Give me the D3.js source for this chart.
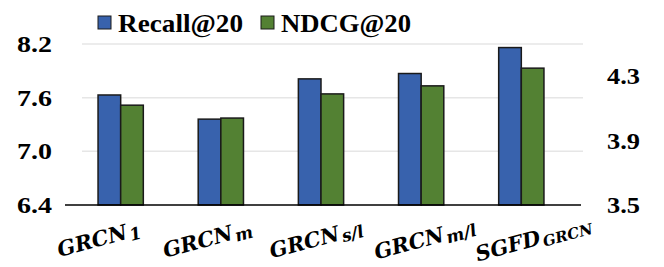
<!DOCTYPE html>
<html>
<head>
<meta charset="utf-8">
<script src="https://cdn.jsdelivr.net/npm/d3@7"></script>
<style>
  body { margin: 0; background: #fff; }
</style>
</head>
<body>
<div id="chart"></div>
<script>
// chart data
const categories = ["GRCN_1", "GRCN_m", "GRCN_s/l", "GRCN_m/l", "SGFD_GRCN"];
const recallValues = [7.63, 7.36, 7.81, 7.87, 8.16];
const ndcgValues = [4.12, 4.04, 4.19, 4.24, 4.35];
const leftTicks = [6.4, 7.0, 7.6, 8.2];
const rightTicks = [3.5, 3.9, 4.3];
const seriesNames = ["Recall@20", "NDCG@20"];

const width = 664, height = 267;
const colours = { "Recall@20": "#3862ad", "NDCG@20": "#538133" };
const serif = "Liberation Serif, Times New Roman, serif";

const svg = d3.select("#chart").append("svg")
  .attr("width", width)
  .attr("height", height);

// scales
const xScale = d3.scaleBand()
  .domain(categories)
  .range([70.6, 571.4])
  .paddingInner(0.548)
  .paddingOuter(0.274);

const xSub = d3.scaleBand()
  .domain(seriesNames)
  .range([0, xScale.bandwidth()]);

const yLeft = d3.scaleLinear().domain([6.4, 8.2]).range([205, 44]);
const yRight = d3.scaleLinear().domain([3.5, 4.5]).range([205, 44]);

// gridlines
svg.append("g")
  .selectAll("line")
  .data(leftTicks.slice(1))
  .join("line")
  .attr("x1", 82)
  .attr("x2", 583)
  .attr("y1", (d) => yLeft(d))
  .attr("y2", (d) => yLeft(d))
  .attr("stroke", "#e6e6e6")
  .attr("stroke-width", 1.5);

// bars
const groups = svg.append("g")
  .selectAll("g")
  .data(categories.map((c, i) => ({ cat: c, recall: recallValues[i], ndcg: ndcgValues[i] })))
  .join("g")
  .attr("transform", (d) => `translate(${xScale(d.cat)},0)`);

groups.append("rect")
  .attr("x", xSub("Recall@20"))
  .attr("y", (d) => yLeft(d.recall))
  .attr("width", xSub.bandwidth())
  .attr("height", (d) => yLeft(6.4) - yLeft(d.recall))
  .attr("fill", colours["Recall@20"])
  .attr("stroke", "#1a1a1a")
  .attr("stroke-width", 1.5);

groups.append("rect")
  .attr("x", xSub("NDCG@20"))
  .attr("y", (d) => yRight(d.ndcg))
  .attr("width", xSub.bandwidth())
  .attr("height", (d) => yRight(3.5) - yRight(d.ndcg))
  .attr("fill", colours["NDCG@20"])
  .attr("stroke", "#1a1a1a")
  .attr("stroke-width", 1.5);

// baseline
svg.append("line")
  .attr("x1", 65)
  .attr("x2", 581)
  .attr("y1", yLeft(6.4))
  .attr("y2", yLeft(6.4))
  .attr("stroke", "#000")
  .attr("stroke-width", 1.5);

// left axis labels
svg.append("g")
  .selectAll("text")
  .data(leftTicks)
  .join("text")
  .attr("font-family", serif)
  .attr("font-weight", "bold")
  .attr("font-size", 23)
  .attr("x", 17)
  .attr("y", (d) => yLeft(d) + 8)
  .attr("textLength", 35)
  .attr("lengthAdjust", "spacingAndGlyphs")
  .text((d) => d.toFixed(1));

// right axis labels
svg.append("g")
  .selectAll("text")
  .data(rightTicks)
  .join("text")
  .attr("font-family", serif)
  .attr("font-weight", "bold")
  .attr("font-size", 23)
  .attr("x", 607)
  .attr("y", (d) => yRight(d) + 8)
  .attr("textLength", 33)
  .attr("lengthAdjust", "spacingAndGlyphs")
  .text((d) => d.toFixed(1));

// legend
const legendX = [98, 261];
const legendLen = [125, 130];
const legend = svg.append("g")
  .selectAll("g")
  .data(seriesNames)
  .join("g")
  .attr("transform", (d, i) => `translate(${legendX[i]},0)`);

legend.append("rect")
  .attr("x", 0)
  .attr("y", 16)
  .attr("width", 13)
  .attr("height", 13)
  .attr("fill", (d) => colours[d])
  .attr("stroke", "#1a1a1a")
  .attr("stroke-width", 1);

legend.append("text")
  .attr("font-family", serif)
  .attr("font-weight", "bold")
  .attr("font-size", 25)
  .attr("x", 20)
  .attr("y", 32)
  .attr("textLength", (d, i) => legendLen[i])
  .attr("lengthAdjust", "spacingAndGlyphs")
  .text((d) => d);

// category labels, rotated, with subscripts
const catLabels = svg.append("g")
  .selectAll("g")
  .data(categories)
  .join("g")
  .attr("transform", (d, i) => {
    const cx = xScale(d) + xScale.bandwidth() / 2 + (i - 2) * 8.5 - 3;
    return `translate(${cx},246) rotate(-15)`;
  })
  .append("text")
  .attr("font-family", "DejaVu Serif, serif")
  .attr("font-weight", "bold")
  .attr("font-style", "italic")
  .attr("font-size", 21)
  .attr("text-anchor", "middle");

catLabels.append("tspan")
  .text((d) => d.split("_")[0]);

catLabels.append("tspan")
  .attr("dy", 3)
  .attr("dx", 2)
  .attr("font-size", (d) => (d.split("_")[1] === "GRCN" ? 15 : 17))
  .text((d) => d.split("_")[1]);
</script>
</body>
</html>
